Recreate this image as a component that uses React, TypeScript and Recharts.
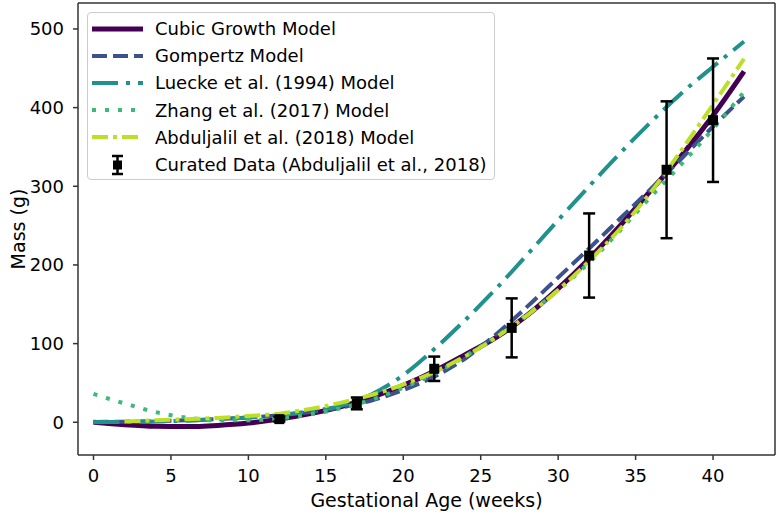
import React from 'react';
import {
  ComposedChart,
  Line,
  Scatter,
  ErrorBar,
  XAxis,
  YAxis,
  ReferenceLine
} from 'recharts';

const FONT = '"DejaVu Sans", sans-serif';

// model curves, sampled every 2 weeks
const weeks = [0, 2, 4, 6, 8, 10, 12, 14, 16, 18, 20, 22, 24, 26, 28, 30, 32, 34, 36, 38, 40, 42];
const cubic = [0, -3, -5, -5.5, -4, -1, 4, 11, 20, 32, 47, 65, 86, 108, 136, 170, 208, 250, 295, 340, 390, 446];
const gompertz = [0.3, 0.8, 1.5, 2.5, 4, 6, 9, 13, 19, 28, 41, 58, 81, 112, 147, 184, 221, 259, 297, 336, 376, 414];
const luecke = [0, 0.5, 1, 2, 4, 6, 9, 14, 21, 36, 60, 93, 130, 170, 213, 257, 300, 342, 382, 419, 452, 484];
const zhang = [36, 24, 13, 6, 2.5, 2.5, 5, 10, 18, 29, 44, 62, 84, 109, 137, 168, 203, 244, 287, 329, 373, 420];
const abduljalil = [null, 1, 2.5, 4, 5.5, 8, 11, 17, 25, 35, 48, 64, 84, 108, 136, 168, 205, 246, 293, 347, 404, 462];

// curated data points with error
const curatedWeeks = [12, 17, 22, 27, 32, 37, 40];
const curatedMass = [4, 24, 68, 120, 212, 321, 384];
const curatedErr = [3, 7.5, 15.5, 37.5, 53.5, 87, 78.5];

const xTicks = [0, 5, 10, 15, 20, 25, 30, 35, 40];
const yTicks = [0, 100, 200, 300, 400, 500];
const xDomain = [-1, 44];
const yDomain = [-41.6, 533];

const series = [
  { key: 'cubic', name: 'Cubic Growth Model', color: '#440154', width: 5, dash: undefined },
  { key: 'gompertz', name: 'Gompertz Model', color: '#3b528b', width: 4, dash: '15 6' },
  { key: 'luecke', name: 'Luecke et al. (1994) Model', color: '#21918c', width: 4, dash: '26 8 4 8' },
  { key: 'zhang', name: 'Zhang et al. (2017) Model', color: '#3bbb75', width: 4, dash: '4 9' },
  { key: 'abduljalil', name: 'Abduljalil et al. (2018) Model', color: '#bddf26', width: 4, dash: '16 5 4 5' }
];

const rows = weeks.map((w, i) => ({
  week: w,
  cubic: cubic[i],
  gompertz: gompertz[i],
  luecke: luecke[i],
  zhang: zhang[i],
  abduljalil: abduljalil[i]
}));

const curated = curatedWeeks.map((w, i) => ({
  week: w,
  mass: curatedMass[i],
  err: curatedErr[i]
}));

const AXIS = '#333';

function SquareMarker(props: any) {
  const { cx, cy } = props;
  if (cx == null || cy == null) return null;
  return <rect x={cx - 5} y={cy - 5} width={10} height={10} fill="#000" />;
}

function LegendBox() {
  return (
    <div
      style={{
        position: 'absolute',
        left: 87,
        top: 12,
        width: 408,
        height: 168,
        boxSizing: 'border-box',
        border: '1px solid #cccccc',
        borderRadius: 4,
        background: 'rgba(255,255,255,0.8)',
        padding: '2px 0 0 4px',
        fontFamily: FONT,
        fontSize: 18,
        color: '#000'
      }}
    >
      {series.map((s) => (
        <div key={s.key} style={{ display: 'flex', alignItems: 'center', height: 27.2 }}>
          <svg width={51} height={12} style={{ marginRight: 12 }}>
            <line
              x1={0}
              y1={6}
              x2={51}
              y2={6}
              stroke={s.color}
              strokeWidth={s.width}
              strokeDasharray={s.dash}
            />
          </svg>
          <span style={{ whiteSpace: 'nowrap' }}>{s.name}</span>
        </div>
      ))}
      <div style={{ display: 'flex', alignItems: 'center', height: 27.2 }}>
        <svg width={51} height={22} style={{ marginRight: 12 }}>
          <line x1={25.5} y1={2} x2={25.5} y2={20} stroke="#000" strokeWidth={2.5} />
          <line x1={20} y1={2} x2={31} y2={2} stroke="#000" strokeWidth={2.5} />
          <line x1={20} y1={20} x2={31} y2={20} stroke="#000" strokeWidth={2.5} />
          <rect x={21} y={6.5} width={9} height={9} fill="#000" />
        </svg>
        <span style={{ whiteSpace: 'nowrap' }}>Curated Data (Abduljalil et al., 2018)</span>
      </div>
    </div>
  );
}

export default function App() {
  return (
    <div style={{ position: 'absolute', left: 0, top: 0, width: 778, height: 514, background: '#fff' }}>
      <ComposedChart
        width={778}
        height={514}
        data={rows}
        margin={{ top: 3, right: 3, bottom: 0, left: 0 }}
      >
        <XAxis
          dataKey="week"
          type="number"
          domain={xDomain}
          ticks={xTicks}
          allowDataOverflow
          height={59}
          stroke={AXIS}
          strokeWidth={1.5}
          tickSize={5}
          tickMargin={9}
          tick={{ fill: '#000', fontSize: 18, fontFamily: FONT }}
          label={{
            content: (p: any) => {
              const vb = p.viewBox;
              return (
                <text
                  x={vb.x + vb.width / 2}
                  y={vb.y + 45}
                  textAnchor="middle"
                  dominantBaseline="central"
                  fontSize={19}
                  fontFamily={FONT}
                  fill="#000"
                >
                  Gestational Age (weeks)
                </text>
              );
            }
          }}
        />
        <YAxis
          type="number"
          domain={yDomain}
          ticks={yTicks}
          allowDataOverflow
          width={78}
          stroke={AXIS}
          strokeWidth={1.5}
          tickSize={5}
          tickMargin={9}
          tick={{ fill: '#000', fontSize: 18, fontFamily: FONT }}
          label={{
            content: (p: any) => {
              const vb = p.viewBox;
              const cx = vb.x + 18;
              const cy = vb.y + vb.height / 2;
              return (
                <text
                  x={cx}
                  y={cy}
                  transform={`rotate(-90 ${cx} ${cy})`}
                  textAnchor="middle"
                  dominantBaseline="central"
                  fontSize={19}
                  fontFamily={FONT}
                  fill="#000"
                >
                  Mass (g)
                </text>
              );
            }
          }}
        />
        {/* top and right spines */}
        <ReferenceLine x={xDomain[1]} stroke={AXIS} strokeWidth={1.5} ifOverflow="visible" />
        <ReferenceLine y={yDomain[1]} stroke={AXIS} strokeWidth={1.5} ifOverflow="visible" />
        {series.map((s) => (
          <Line
            key={s.key}
            dataKey={s.key}
            name={s.name}
            type="monotone"
            stroke={s.color}
            strokeWidth={s.width}
            strokeDasharray={s.dash}
            dot={false}
            activeDot={false}
            isAnimationActive={false}
          />
        ))}
        <Scatter
          data={curated}
          dataKey="mass"
          name="Curated Data (Abduljalil et al., 2018)"
          fill="#000"
          shape={SquareMarker}
          isAnimationActive={false}
        >
          <ErrorBar dataKey="err" direction="y" width={6} stroke="#000" strokeWidth={2.5} isAnimationActive={false} />
        </Scatter>
      </ComposedChart>
      <LegendBox />
    </div>
  );
}
